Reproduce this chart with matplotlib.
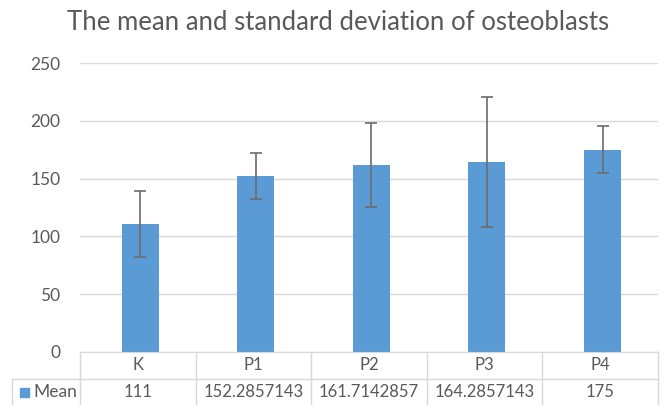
import numpy as np
import matplotlib.pyplot as plt
import matplotlib.transforms as mtransforms
from matplotlib.patches import Rectangle

plt.rcParams['font.family'] = ['Lato', 'DejaVu Sans']

categories = ['K', 'P1', 'P2', 'P3', 'P4']
means = [111, 152.2857143, 161.7142857, 164.2857143, 175]
mean_labels = ['111', '152.2857143', '161.7142857', '164.2857143', '175']
sds = [28.5, 20, 36.5, 56, 20.3]

bar_color = '#5B9BD5'
text_color = '#595959'
line_color = '#D9D9D9'

W, H = 661, 405
fig = plt.figure(figsize=(W / 100, H / 100), dpi=100)
ax = fig.add_axes([80 / W, 1 - 352 / H, (658 - 80) / W, (352 - 63) / H])

x = np.arange(len(categories))
ax.bar(x + 0.02, means, width=0.32, color=bar_color, zorder=2)
ax.errorbar(x + 0.02, means, yerr=sds, fmt='none', ecolor='#6b6b6b', elinewidth=1.2,
            capsize=4, capthick=1.2, zorder=3)

ax.set_xlim(-0.5, len(categories) - 0.5)
ax.set_ylim(0, 250)
ax.set_yticks(range(0, 251, 50))
ax.yaxis.grid(True, color=line_color, linewidth=1)
ax.set_axisbelow(True)
ax.tick_params(axis='y', length=0, pad=14, labelsize=12.5, labelcolor=text_color)
ax.set_xticks([])
for s in ['top', 'right', 'left']:
    ax.spines[s].set_visible(False)
ax.spines['bottom'].set_color(line_color)

fig.text(338 / W, 1 - 22 / H, 'The mean and standard deviation of osteoblasts',
         ha='center', va='center', fontsize=18.5, color=text_color)

# data table under the axes
trans = mtransforms.blended_transform_factory(ax.transData, fig.transFigure)
ftrans = fig.transFigure
y_top = 1 - 352 / H
y_mid = 1 - 379 / H
y_bot = 0.0
for i in range(len(categories) + 1):
    ax.plot([i - 0.5, i - 0.5], [y_top, y_bot], color=line_color, lw=1,
            transform=trans, clip_on=False)
ax.plot([12 / W, 658 / W], [y_mid, y_mid], color=line_color, lw=1,
        transform=ftrans, clip_on=False)
ax.plot([12 / W, 12 / W], [y_mid, y_bot], color=line_color, lw=1,
        transform=ftrans, clip_on=False)
for i, (c, m) in enumerate(zip(categories, mean_labels)):
    ax.text(i, (y_top + y_mid) / 2, c, transform=trans, ha='center', va='center',
            fontsize=12, color=text_color)
    ax.text(i, y_mid / 2, m, transform=trans, ha='center', va='center',
            fontsize=12, color=text_color)
fig.patches.append(Rectangle((20 / W, y_mid / 2 - 4.5 / H), 9 / W, 9 / H,
                             transform=ftrans, color=bar_color))
fig.text(33 / W, y_mid / 2, 'Mean', ha='left', va='center', fontsize=12.5,
         color=text_color)

fig.savefig('out.png', dpi=100)
